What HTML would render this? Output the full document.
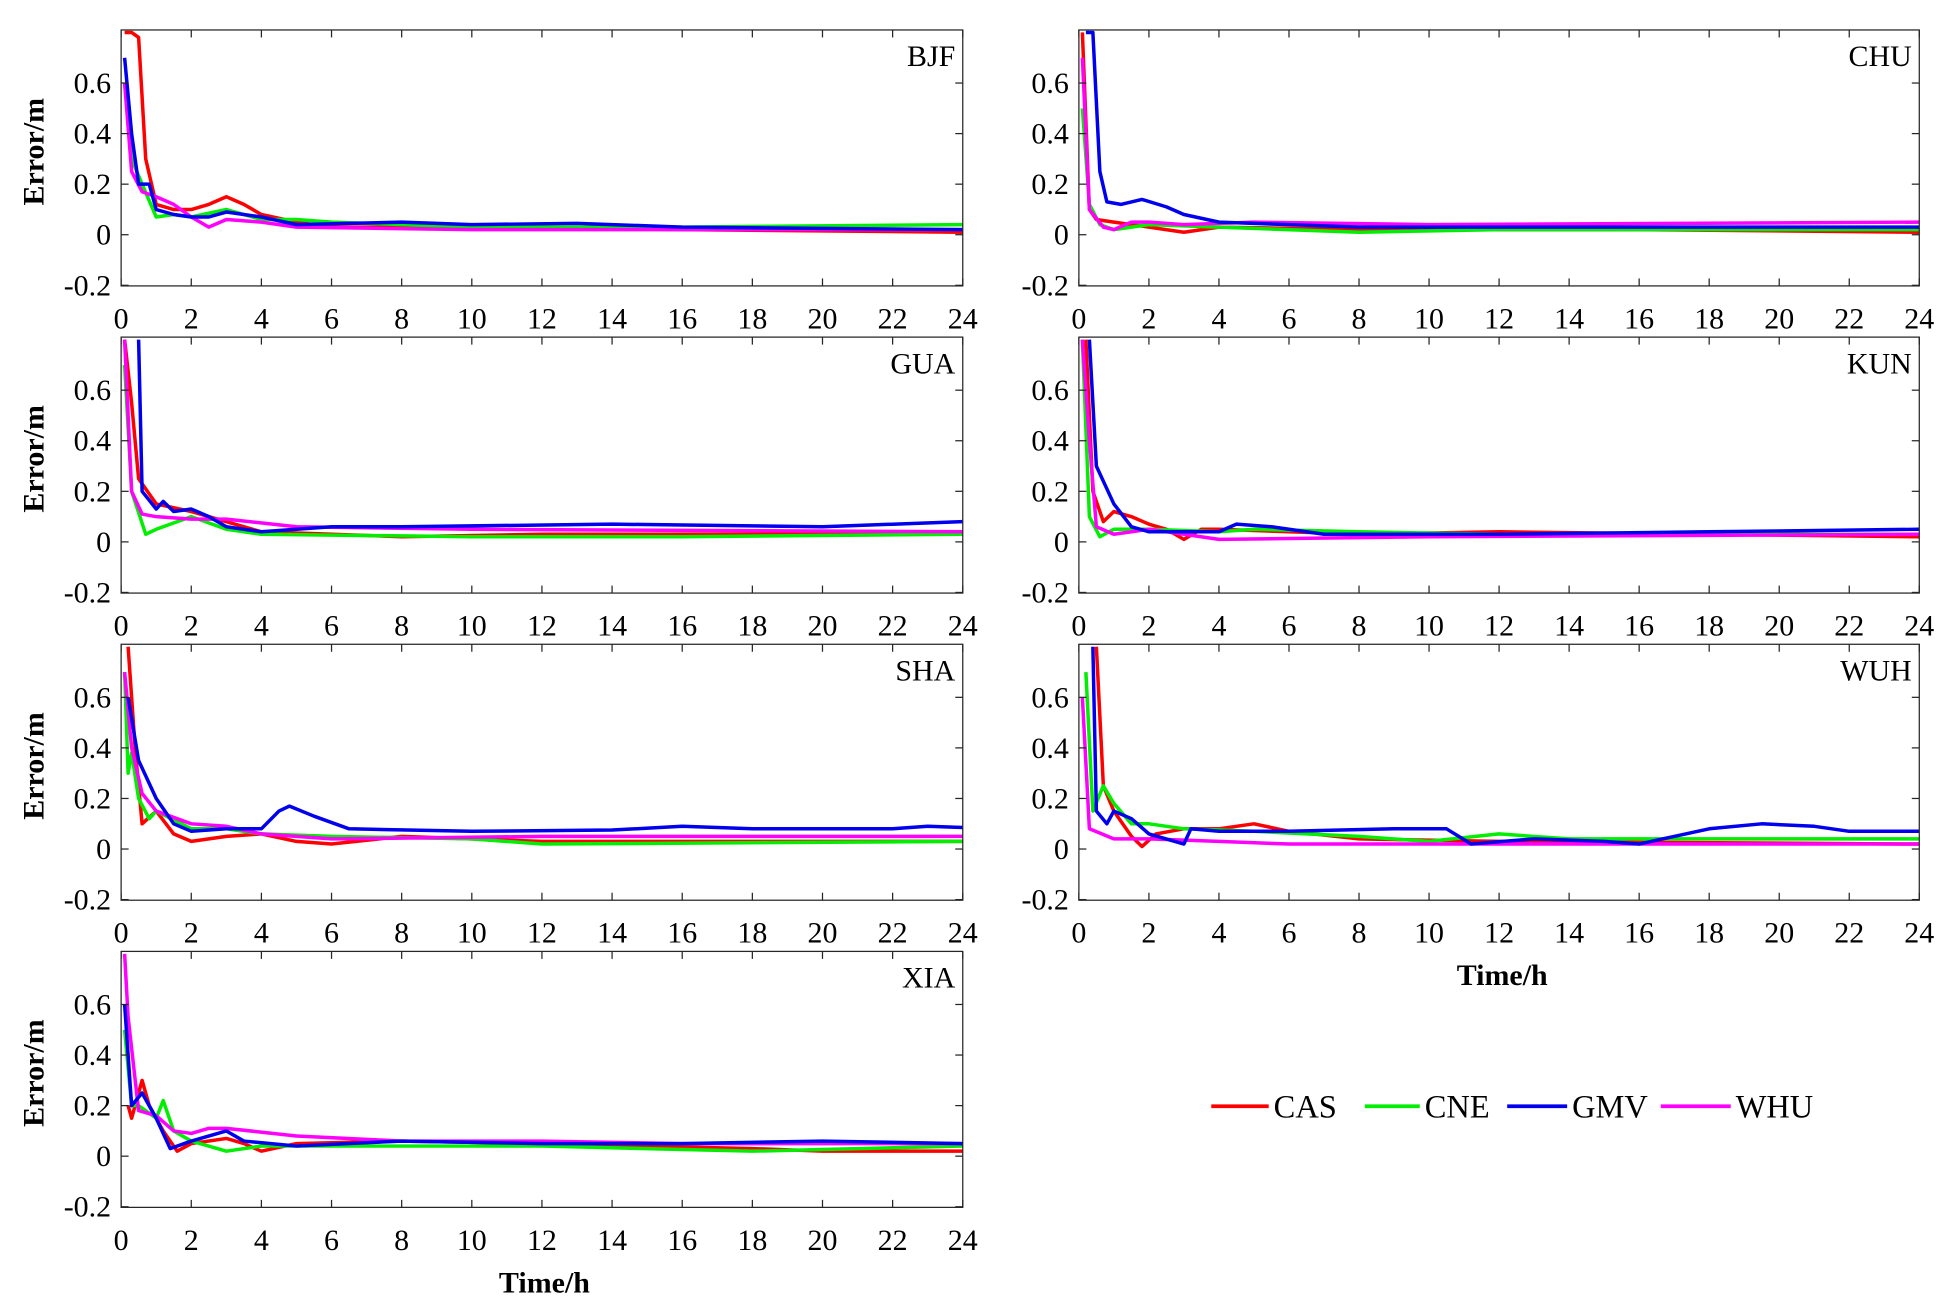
<!DOCTYPE html>
<html><head><meta charset="utf-8"><style>
html,body{margin:0;padding:0;background:#fff;}
svg{display:block;}
text{font-family:"Liberation Serif",serif;fill:#000;}
</style></head><body>
<svg id="s" width="1948" height="1311" viewBox="0 0 1560 1050" preserveAspectRatio="none" xmlns="http://www.w3.org/2000/svg"></svg>
<script>
const S=document.getElementById('s');
const NS='http://www.w3.org/2000/svg';
function el(t,a,txt){const e=document.createElementNS(NS,t);for(const k in a)e.setAttribute(k,a[k]);if(txt!==undefined)e.textContent=txt;S.appendChild(e);return e;}
const col={CAS:'#ff0000',CNE:'#00ee00',GMV:'#0000ee',WHU:'#ff00ff'};
const P=[
{n:'BJF',c:0,r:0,d:{
CAS:[[0.1,0.8],[0.3,0.8],[0.5,0.78],[0.7,0.3],[1,0.12],[1.5,0.1],[2,0.1],[2.5,0.12],[3,0.15],[3.5,0.12],[4,0.08],[5,0.05],[6,0.03],[10,0.03],[16,0.02],[24,0.01]],
CNE:[[0.1,0.6],[0.3,0.3],[0.6,0.2],[1,0.07],[1.5,0.08],[2,0.07],[3,0.1],[4,0.06],[5,0.06],[6,0.05],[10,0.03],[16,0.03],[24,0.04]],
GMV:[[0.1,0.7],[0.3,0.4],[0.5,0.2],[0.8,0.2],[1,0.1],[1.5,0.08],[2,0.07],[2.5,0.07],[3,0.09],[4,0.07],[5,0.04],[8,0.05],[10,0.04],[13,0.045],[16,0.03],[24,0.02]],
WHU:[[0.1,0.6],[0.3,0.25],[0.6,0.17],[1,0.15],[1.5,0.12],[2,0.07],[2.5,0.03],[3,0.06],[4,0.05],[5,0.03],[10,0.02],[24,0.02]]}},
{n:'CHU',c:1,r:0,d:{
CAS:[[0.1,0.8],[0.3,0.1],[0.5,0.06],[1,0.05],[2,0.03],[3,0.01],[4,0.03],[8,0.02],[16,0.02],[24,0.01]],
CNE:[[0.1,0.5],[0.3,0.12],[0.6,0.04],[1,0.02],[1.5,0.03],[2,0.04],[4,0.03],[8,0.01],[12,0.02],[24,0.02]],
GMV:[[0.2,0.8],[0.4,0.8],[0.6,0.25],[0.8,0.13],[1.2,0.12],[1.8,0.14],[2.5,0.11],[3,0.08],[4,0.05],[6,0.04],[8,0.03],[12,0.03],[24,0.03]],
WHU:[[0.1,0.7],[0.3,0.1],[0.7,0.03],[1,0.02],[1.5,0.05],[2,0.05],[3,0.04],[5,0.05],[10,0.04],[24,0.05]]}},
{n:'GUA',c:0,r:1,d:{
CAS:[[0.1,0.8],[0.3,0.55],[0.5,0.25],[1,0.15],[2,0.12],[3,0.08],[4,0.04],[8,0.02],[12,0.03],[24,0.03]],
CNE:[[0.1,0.7],[0.3,0.2],[0.7,0.03],[1,0.05],[2,0.1],[3,0.05],[4,0.03],[10,0.02],[16,0.02],[24,0.03]],
GMV:[[0.5,0.8],[0.6,0.2],[1,0.13],[1.2,0.16],[1.5,0.12],[2,0.13],[2.5,0.1],[3,0.06],[4,0.04],[6,0.06],[8,0.06],[14,0.07],[20,0.06],[24,0.08]],
WHU:[[0.1,0.8],[0.3,0.2],[0.6,0.11],[1,0.1],[2,0.09],[3,0.09],[5,0.06],[10,0.05],[24,0.04]]}},
{n:'KUN',c:1,r:1,d:{
CAS:[[0.2,0.8],[0.4,0.2],[0.7,0.08],[1,0.12],[1.5,0.1],[2,0.07],[2.5,0.05],[3,0.01],[3.5,0.05],[4,0.05],[6,0.04],[8,0.03],[12,0.04],[24,0.02]],
CNE:[[0.1,0.8],[0.3,0.1],[0.6,0.02],[1,0.05],[2,0.05],[4,0.04],[5,0.05],[8,0.04],[12,0.03],[24,0.03]],
GMV:[[0.3,0.8],[0.5,0.3],[1,0.15],[1.5,0.06],[2,0.04],[3,0.04],[4,0.04],[4.5,0.07],[5.5,0.06],[7,0.03],[12,0.03],[18,0.04],[24,0.05]],
WHU:[[0.1,0.8],[0.3,0.4],[0.5,0.06],[1,0.03],[2,0.05],[3,0.03],[4,0.01],[10,0.02],[24,0.03]]}},
{n:'SHA',c:0,r:2,d:{
CAS:[[0.2,0.8],[0.4,0.4],[0.6,0.1],[1,0.15],[1.5,0.06],[2,0.03],[3,0.05],[4,0.06],[5,0.03],[6,0.02],[8,0.05],[12,0.03],[24,0.03]],
CNE:[[0.1,0.7],[0.2,0.3],[0.3,0.38],[0.5,0.2],[0.8,0.12],[1,0.15],[2,0.08],[3,0.08],[4,0.06],[6,0.05],[10,0.04],[12,0.02],[24,0.03]],
GMV:[[0.2,0.6],[0.5,0.35],[1,0.2],[1.5,0.1],[2,0.07],[3,0.08],[4,0.08],[4.5,0.15],[4.8,0.17],[5.5,0.13],[6.5,0.08],[10,0.07],[14,0.075],[16,0.09],[18,0.08],[22,0.08],[23,0.09],[24,0.085]],
WHU:[[0.1,0.7],[0.3,0.4],[0.6,0.22],[1,0.15],[2,0.1],[3,0.09],[4,0.06],[6,0.04],[12,0.05],[24,0.05]]}},
{n:'WUH',c:1,r:2,d:{
CAS:[[0.5,0.8],[0.7,0.25],[1,0.15],[1.5,0.05],[1.8,0.01],[2.2,0.06],[3,0.08],[4,0.08],[5,0.1],[6,0.07],[8,0.04],[12,0.03],[24,0.02]],
CNE:[[0.2,0.7],[0.4,0.15],[0.7,0.25],[1,0.18],[1.5,0.1],[2,0.1],[3,0.08],[5,0.07],[8,0.05],[10,0.03],[12,0.06],[14,0.04],[18,0.04],[24,0.04]],
GMV:[[0.4,0.8],[0.5,0.15],[0.8,0.1],[1,0.15],[1.5,0.12],[2,0.06],[3,0.02],[3.2,0.08],[4,0.07],[6,0.07],[9,0.08],[10.5,0.08],[11.2,0.02],[13,0.04],[15,0.03],[16,0.02],[17,0.05],[18,0.08],[19.5,0.1],[21,0.09],[22,0.07],[24,0.07]],
WHU:[[0.1,0.6],[0.3,0.08],[1,0.04],[2,0.04],[4,0.03],[6,0.02],[10,0.02],[24,0.02]]}},
{n:'XIA',c:0,r:3,d:{
CAS:[[0.2,0.2],[0.3,0.15],[0.5,0.25],[0.6,0.3],[0.8,0.2],[1.2,0.1],[1.6,0.02],[2,0.05],[3,0.07],[3.5,0.05],[4,0.02],[5,0.05],[8,0.06],[12,0.05],[18,0.03],[20,0.02],[24,0.02]],
CNE:[[0.1,0.5],[0.3,0.2],[0.5,0.2],[1,0.15],[1.2,0.22],[1.5,0.1],[2,0.06],[3,0.02],[4,0.04],[6,0.04],[8,0.04],[12,0.04],[18,0.02],[24,0.04]],
GMV:[[0.1,0.6],[0.3,0.2],[0.6,0.25],[1,0.15],[1.4,0.03],[2,0.06],[3,0.1],[3.5,0.06],[5,0.04],[8,0.06],[12,0.05],[16,0.05],[20,0.06],[24,0.05]],
WHU:[[0.1,0.8],[0.2,0.55],[0.5,0.18],[1,0.16],[1.5,0.1],[2,0.09],[2.5,0.11],[3,0.11],[5,0.08],[8,0.06],[12,0.06],[16,0.05],[24,0.05]]}}
];
P.forEach((p,i)=>{
 const x0=p.c?864:97, x1=p.c?1537:771, w=x1-x0;
 const top=24+246*p.r, zero=188+246*p.r, bot=229+246*p.r, k=202.5;
 const X=t=>x0+t*w/24, Y=v=>zero-v*k;
 el('clipPath',{id:'c'+i}).appendChild((()=>{const r=document.createElementNS(NS,'rect');r.setAttribute('x',x0);r.setAttribute('y',top);r.setAttribute('width',w);r.setAttribute('height',bot-top);return r;})());
 ['CAS','CNE','WHU','GMV'].forEach(s=>{
  const d=p.d[s].map((q,j)=>(j?'L':'M')+X(q[0]).toFixed(1)+' '+Y(q[1]).toFixed(1)).join('');
  el('path',{d:d,fill:'none',stroke:col[s],'stroke-width':2.8,'stroke-linejoin':'round','clip-path':'url(#c'+i+')'});
 });
 el('rect',{x:x0,y:top,width:w,height:bot-top,fill:'none',stroke:'#262626','stroke-width':1});
 for(let t=0;t<=24;t+=2){const x=X(t);
  el('line',{x1:x,y1:bot,x2:x,y2:bot-6,stroke:'#262626'});
  el('line',{x1:x,y1:top,x2:x,y2:top+6,stroke:'#262626'});
  el('text',{x:x,y:bot+34,'font-size':24,'text-anchor':'middle'},String(t));}
 [-0.2,0,0.2,0.4,0.6].forEach(v=>{const y=Y(v);
  el('line',{x1:x0,y1:y,x2:x0+6,y2:y,stroke:'#262626'});
  el('line',{x1:x1,y1:y,x2:x1-6,y2:y,stroke:'#262626'});
  el('text',{x:x0-8,y:y+8,'font-size':24,'text-anchor':'end'},v===0?'0':String(v));});
 el('text',{x:x1-6,y:top+29,'font-size':24,'text-anchor':'end'},p.n);
 if(p.c===0){const cy=(top+bot)/2-5;el('text',{x:35,y:cy,'font-size':24,'font-weight':'bold','text-anchor':'middle',transform:'rotate(-90 35 '+cy+')'},'Error/m');}
});
el('text',{x:436,y:1035,'font-size':24,'font-weight':'bold','text-anchor':'middle'},'Time/h');
el('text',{x:1203,y:789,'font-size':24,'font-weight':'bold','text-anchor':'middle'},'Time/h');
[['CAS',970,1020],['CNE',1093,1141],['GMV',1207,1259],['WHU',1330,1390]].forEach(a=>{
 el('line',{x1:a[1],y1:886,x2:a[2]-4,y2:886,stroke:col[a[0]],'stroke-width':3});
 el('text',{x:a[2],y:895,'font-size':26},a[0]);});
</script>
</body></html>
